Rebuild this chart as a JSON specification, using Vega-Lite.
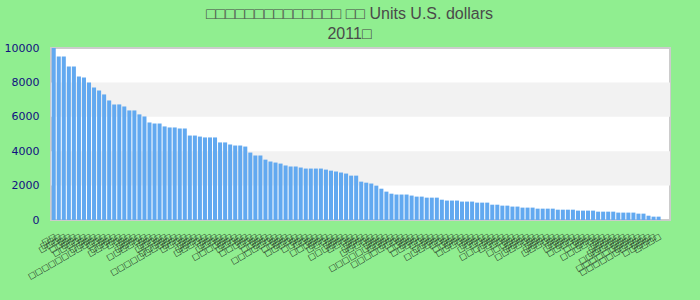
{
  "$schema": "https://vega.github.io/schema/vega-lite/v6.json",
  "width": 619,
  "height": 172,
  "autosize": "none",
  "padding": {"left": 51, "top": 48, "right": 30, "bottom": 80},
  "background": "#90ee90",
  "title": {
    "text": ["□□□□□□□□□□□□□□ □□ Units U.S. dollars", "2011□"],
    "font": "Liberation Sans",
    "fontSize": 16,
    "fontWeight": "normal",
    "color": "#4a4a4a",
    "anchor": "middle",
    "offset": 0,
    "lineHeight": 20,
    "dx": -11
  },
  "config": {
    "view": {"fill": "white", "stroke": "#cccccc", "strokeWidth": 2},
    "axisY": {
      "title": null,
      "grid": false,
      "ticks": false,
      "domain": false,
      "format": "d",
      "labelColor": "#101080",
      "labelFont": "DejaVu Sans",
      "labelFontSize": 11,
      "labelPadding": 12,
      "values": [0, 2000, 4000, 6000, 8000, 10000]
    },
    "axisX": {
      "title": null,
      "grid": false,
      "ticks": false,
      "domain": false,
      "labelAngle": -30,
      "labelFont": "DejaVu Sans",
      "labelFontSize": 8,
      "labelColor": "#111111",
      "labelPadding": 12,
      "labelOverlap": false,
      "labelBound": false
    }
  },
  "layer": [
    {
      "data": {"values": [{"from": 2000, "to": 4000}, {"from": 6000, "to": 8000}]},
      "mark": {"type": "rect", "color": "#f2f2f2"},
      "encoding": {
        "y": {"field": "from", "type": "quantitative", "scale": {"domain": [0, 10000], "nice": false}},
        "y2": {"field": "to"}
      }
    },
    {
      "data": {"values": [
        {"country": "□□#1", "value": 10000},
        {"country": "□□□#2", "value": 9510},
        {"country": "□□□□#3", "value": 9510},
        {"country": "□□#4", "value": 8930},
        {"country": "□□□□#5", "value": 8930},
        {"country": "□□□#6", "value": 8350},
        {"country": "□□□□□#7", "value": 8290},
        {"country": "□□#8", "value": 8000},
        {"country": "□□□□#9", "value": 7710},
        {"country": "□□□□□□□□□□□#10", "value": 7530},
        {"country": "□□□#11", "value": 7300},
        {"country": "□□#12", "value": 6950},
        {"country": "□□□□#13", "value": 6720},
        {"country": "□□□□□#14", "value": 6720},
        {"country": "□□□#15", "value": 6600},
        {"country": "□□#16", "value": 6370},
        {"country": "□□□#17", "value": 6370},
        {"country": "□□□□#18", "value": 6140},
        {"country": "□□□□□□#19", "value": 6020},
        {"country": "□□#20", "value": 5670},
        {"country": "□□□#21", "value": 5610},
        {"country": "□□□□#22", "value": 5610},
        {"country": "□□#23", "value": 5440},
        {"country": "□□□□□#24", "value": 5380},
        {"country": "□□□□□□□□□□#25", "value": 5380},
        {"country": "□□□#26", "value": 5320},
        {"country": "□□□□#27", "value": 5320},
        {"country": "□□#28", "value": 4910},
        {"country": "□□□#29", "value": 4910},
        {"country": "□□□□#30", "value": 4850},
        {"country": "□□□□□#31", "value": 4800},
        {"country": "□□#32", "value": 4800},
        {"country": "□□□#33", "value": 4800},
        {"country": "□□□□#34", "value": 4510},
        {"country": "□□#35", "value": 4510},
        {"country": "□□□□□□#36", "value": 4390},
        {"country": "□□□#37", "value": 4330},
        {"country": "□□□□#38", "value": 4330},
        {"country": "□□#39", "value": 4270},
        {"country": "□□□□□#40", "value": 3920},
        {"country": "□□□#41", "value": 3750},
        {"country": "□□#42", "value": 3750},
        {"country": "□□□□#43", "value": 3510},
        {"country": "□□□#44", "value": 3400},
        {"country": "□□□□□□□#45", "value": 3340},
        {"country": "□□#46", "value": 3280},
        {"country": "□□□□#47", "value": 3170},
        {"country": "□□□#48", "value": 3110},
        {"country": "□□□□□#49", "value": 3110},
        {"country": "□□#50", "value": 3050},
        {"country": "□□□□#51", "value": 2990},
        {"country": "□□□#52", "value": 2990},
        {"country": "□□#53", "value": 2990},
        {"country": "□□□□□#54", "value": 2990},
        {"country": "□□□#55", "value": 2930},
        {"country": "□□□□#56", "value": 2870},
        {"country": "□□#57", "value": 2820},
        {"country": "□□□#58", "value": 2760},
        {"country": "□□□□□□#59", "value": 2700},
        {"country": "□□□□#60", "value": 2580},
        {"country": "□□#61", "value": 2580},
        {"country": "□□□#62", "value": 2230},
        {"country": "□□□□#63", "value": 2170},
        {"country": "□□□□□#64", "value": 2120},
        {"country": "□□#65", "value": 2000},
        {"country": "□□□#66", "value": 1820},
        {"country": "□□□□□□□□□#67", "value": 1650},
        {"country": "□□□□#68", "value": 1530},
        {"country": "□□□#69", "value": 1480},
        {"country": "□□□□□□□□#70", "value": 1480},
        {"country": "□□#71", "value": 1480},
        {"country": "□□□□#72", "value": 1420},
        {"country": "□□□#73", "value": 1360},
        {"country": "□□□□□#74", "value": 1360},
        {"country": "□□□#75", "value": 1300},
        {"country": "□□#76", "value": 1300},
        {"country": "□□□□#77", "value": 1300},
        {"country": "□□□□□□#78", "value": 1180},
        {"country": "□□□#79", "value": 1130},
        {"country": "□□#80", "value": 1130},
        {"country": "□□□□#81", "value": 1130},
        {"country": "□□□#82", "value": 1070},
        {"country": "□□□□□#83", "value": 1070},
        {"country": "□□#84", "value": 1070},
        {"country": "□□□#85", "value": 1010},
        {"country": "□□□□#86", "value": 1010},
        {"country": "□□□#87", "value": 1010},
        {"country": "□□#88", "value": 890},
        {"country": "□□□□□□#89", "value": 890},
        {"country": "□□□□#90", "value": 835},
        {"country": "□□□#91", "value": 835},
        {"country": "□□#92", "value": 780},
        {"country": "□□□□□#93", "value": 780},
        {"country": "□□□#94", "value": 720},
        {"country": "□□□□#95", "value": 720},
        {"country": "□□□□□□#96", "value": 720},
        {"country": "□□#97", "value": 660},
        {"country": "□□□#98", "value": 660},
        {"country": "□□□□#99", "value": 660},
        {"country": "□□□□□#100", "value": 660},
        {"country": "□□#101", "value": 600},
        {"country": "□□□#102", "value": 600},
        {"country": "□□□□#103", "value": 600},
        {"country": "□□□#104", "value": 600},
        {"country": "□□□□□#105", "value": 545},
        {"country": "□□#106", "value": 545},
        {"country": "□□□□#107", "value": 545},
        {"country": "□□□#108", "value": 545},
        {"country": "□□□□□□#109", "value": 485},
        {"country": "□□#110", "value": 485},
        {"country": "□□□#111", "value": 485},
        {"country": "□□□□#112", "value": 485},
        {"country": "□□□□□#113", "value": 430},
        {"country": "□□□□□□□#114", "value": 430},
        {"country": "□□□#115", "value": 430},
        {"country": "□□□□□□□□□#116", "value": 430},
        {"country": "□□□□#117", "value": 370},
        {"country": "□□□□□□□□□□#118", "value": 370},
        {"country": "□□□#119", "value": 250},
        {"country": "□□□□□#120", "value": 195},
        {"country": "□□□□#121", "value": 195}
      ]},
      "mark": {"type": "bar", "color": "#62a9f0"},
      "encoding": {
        "x": {
          "field": "country",
          "type": "nominal",
          "sort": null,
          "scale": {"paddingInner": 0.2, "paddingOuter": 1.5, "align": 0.07},
          "axis": {"labelExpr": "split(datum.value, '#')[0]"}
        },
        "y": {"field": "value", "type": "quantitative", "scale": {"domain": [0, 10000], "nice": false}}
      }
    }
  ]
}
